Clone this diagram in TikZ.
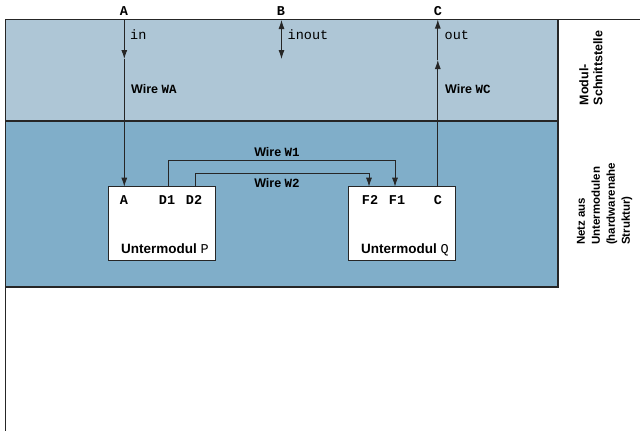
\documentclass[tikz,border=0pt]{standalone}
\usepackage{fontspec}
\setmainfont{Liberation Sans}
\setsansfont{Liberation Sans}
\setmonofont{Liberation Mono}
\usetikzlibrary{arrows.meta}
\definecolor{bandtop}{HTML}{AEC6D6}
\definecolor{bandlow}{HTML}{80AEC9}
\definecolor{ink}{HTML}{262626}
\tikzset{
  frameline/.style={draw=ink, line width=1.2pt},
  wire/.style={draw=ink, line width=0.9pt},
  arr/.style={wire, -{Latex[length=9pt,width=6pt]}},
  darr/.style={wire, {Latex[length=9pt,width=6pt]}-{Latex[length=9pt,width=6pt]}},
  box/.style={draw=ink, line width=1pt, fill=white, minimum width=107pt, minimum height=73.3pt, inner sep=0pt},
  portlbl/.style={font=\fontsize{13.5}{14}\selectfont\ttfamily\bfseries, inner sep=0pt},
  iolbl/.style={font=\fontsize{13.5}{14}\selectfont\ttfamily, inner sep=0pt, anchor=base west},
  wirelbl/.style={font=\fontsize{12.5}{14}\selectfont\sffamily\bfseries, inner sep=0pt},
  modlbl/.style={font=\fontsize{13.5}{14}\selectfont\sffamily\bfseries, inner sep=0pt, anchor=base},
  sidelbl/.style={font=\sffamily\bfseries, inner sep=0pt, rotate=90, align=left}
}
\begin{document}
\begin{tikzpicture}[x=1pt,y=-1pt]
\useasboundingbox (0,0) rectangle (640,431);
% bands
\fill[bandtop] (5.5,19.5) rectangle (558,121);
\fill[bandlow] (5.5,121) rectangle (558,287);
\draw[frameline] (5.5,431) -- (5.5,19.5) -- (640,19.5);
\draw[frameline] (558,19.5) -- (558,287) -- (5.5,287);
\draw[frameline] (5.5,121) -- (558,121);
% side labels
\node[sidelbl, font=\fontsize{12.5}{14}\selectfont\sffamily\bfseries] (lblIF) at (591,68) {Modul-\\Schnittstelle};
\node[sidelbl, font=\fontsize{11.5}{15}\selectfont\sffamily\bfseries] (lblNet) at (604.5,204) {Netz aus\\Untermodulen\\(hardwarenahe\\Struktur)};
% submodules
\node[box] (P) at (161.8,223.35) {};
\node[box] (Q) at (401.65,223.35) {};
\node[modlbl] (Pname) at (165,253) {Untermodul {\fontseries{m}\ttfamily P}};
\node[modlbl] (Qname) at (405,253) {Untermodul {\fontseries{m}\ttfamily Q}};
% port labels
\node[portlbl] (pA) at (124,200) {A};
\node[portlbl] (pD1) at (167,200) {D1};
\node[portlbl] (pD2) at (194,200) {D2};
\node[portlbl] (pF2) at (370,200) {F2};
\node[portlbl] (pF1) at (397,200) {F1};
\node[portlbl] (pC) at (438,200) {C};
% top labels
\node[portlbl] (tA) at (124,11) {A};
\node[portlbl] (tB) at (281,11) {B};
\node[portlbl] (tC) at (438,11) {C};
% coordinates
\coordinate (topA) at (124.3,19.5);
\coordinate (midA) at (124.3,59);
\coordinate (inA) at (124.3,186.7);
\coordinate (topB) at (281.5,20);
\coordinate (botB) at (281.5,59);
\coordinate (topC) at (437.8,19.5);
\coordinate (midC) at (437.8,60);
\coordinate (outC) at (437.8,186.7);
\coordinate (d1) at (168.3,186.7);
\coordinate (d2) at (195,186.7);
\coordinate (f1) at (395,186.7);
\coordinate (f2) at (369,186.7);
\coordinate (w1) at (168.3,160);
\coordinate (w2) at (195,173.3);
% wires
\draw[arr] (topA) -- (midA);
\draw[arr] (midA) -- (inA);
\draw[darr] (topB) -- (botB);
\draw[arr] (outC) -- (midC);
\draw[arr] (midC) -- (topC);
\draw[arr] (d1) -- (w1) -| (f1);
\draw[arr] (d2) -- (w2) -| (f2);
% io labels
\node[iolbl] (lin) at (130,39.5) {in};
\node[iolbl] (linout) at (287.5,39.5) {inout};
\node[iolbl] (lout) at (444.5,39.5) {out};
\node[wirelbl, anchor=base west] (lWA) at (131,93) {Wire \texttt{WA}};
\node[wirelbl, anchor=base west] (lWC) at (445,93) {Wire \texttt{WC}};
\node[wirelbl, anchor=base] (lW1) at (277,156.5) {Wire \texttt{W1}};
\node[wirelbl, anchor=base] (lW2) at (277,187) {Wire \texttt{W2}};
\end{tikzpicture}
\end{document}
